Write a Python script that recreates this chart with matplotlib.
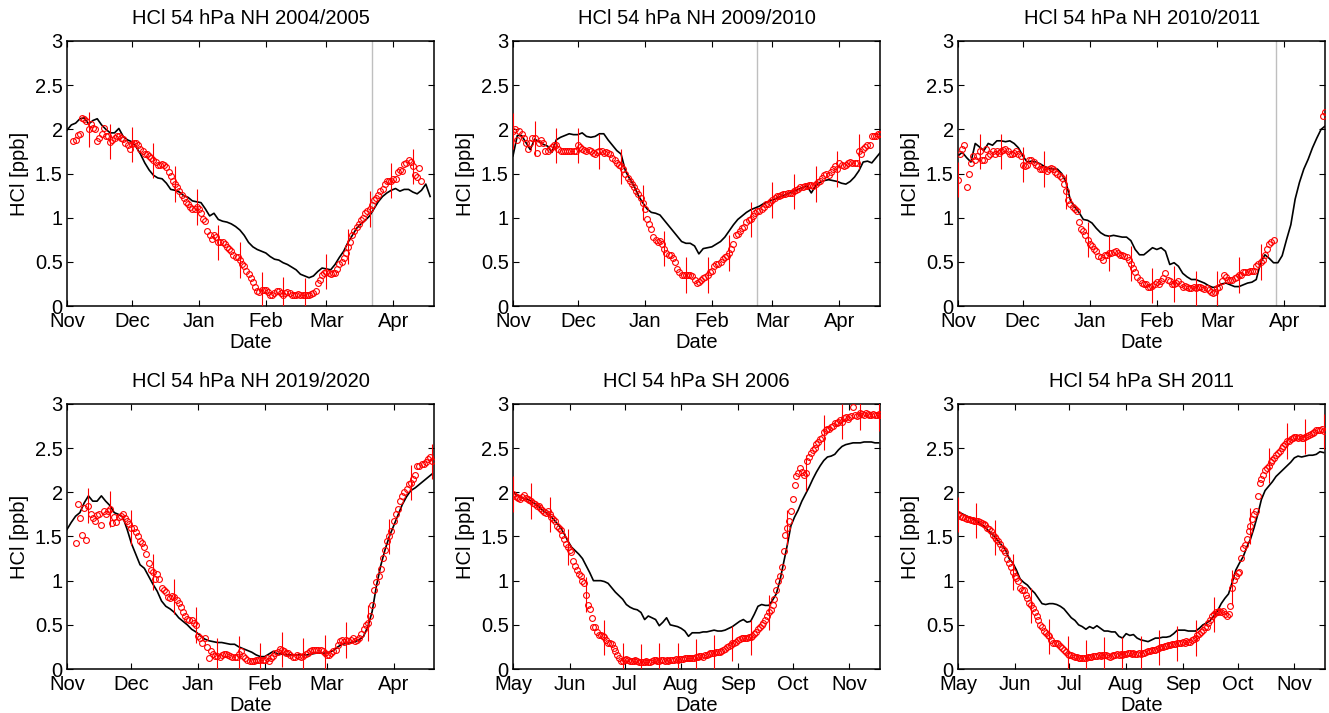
import numpy as np
import matplotlib
matplotlib.use('Agg')
import matplotlib.pyplot as plt
import matplotlib.dates as mdates
from matplotlib.ticker import FormatStrFormatter

plt.rcParams['font.family'] = ['Liberation Sans', 'DejaVu Sans']

nan = np.nan

titles = ['HCl 54 hPa NH 2004/2005', 'HCl 54 hPa NH 2009/2010', 'HCl 54 hPa NH 2010/2011',
          'HCl 54 hPa NH 2019/2020', 'HCl 54 hPa SH 2006', 'HCl 54 hPa SH 2011']
starts = ['2004-11-01', '2009-11-01', '2010-11-01', '2019-11-01', '2006-05-01', '2011-05-01']
ends = ['2005-04-20', '2010-04-20', '2011-04-20', '2020-04-20', '2006-11-18', '2011-11-18']
vortex_edge = ['2005-03-22', '2010-02-22', '2011-03-28', None, None, None]
obs_err = [0.2, 0.2, 0.2, 0.2, 0.2, 0.2]

# daily observations (ppb)
obs_0405 = [nan, nan, nan, 1.87, 1.88, 1.94, 1.95, 2.13, 2.12, 2.10,
            2.0, 2.06, 2.02, 2.0, 1.87, 1.90, 1.95, 2.02, 1.93, 1.92,
            1.86, 1.88, 1.90, 1.92, 1.92, 1.90, 1.89, 1.85, 1.82, 1.78,
            1.83, 1.85, 1.84, 1.82, 1.78, 1.76, 1.72, 1.72, 1.70, 1.68,
            1.65, 1.63, 1.60, 1.60, 1.61, 1.60, 1.57, 1.52, 1.47, 1.42,
            1.38, 1.35, 1.30, 1.26, 1.22, 1.18, 1.15, 1.12, 1.10, 1.10,
            1.12, 1.10, 1.05, 0.98, 0.96, 0.85, 0.80, 0.76, 0.80, 0.78,
            0.72, 0.73, 0.72, 0.70, 0.67, 0.65, 0.62, 0.58, 0.56, 0.55,
            0.52, 0.48, 0.45, 0.40, 0.36, 0.32, 0.27, 0.22, 0.17, 0.16,
            0.18, 0.18, 0.18, 0.16, 0.13, 0.13, 0.15, 0.17, 0.17, 0.15,
            0.13, 0.15, 0.16, 0.15, 0.13, 0.12, 0.13, 0.14, 0.13, 0.12,
            0.12, 0.13, 0.13, 0.14, 0.15, 0.17, 0.26, 0.30, 0.35, 0.37,
            0.39, 0.37, 0.36, 0.37, 0.37, 0.42, 0.48, 0.50, 0.54, 0.60,
            0.67, 0.72, 0.80, 0.85, 0.90, 0.93, 0.97, 1.00, 1.05, 1.08,
            1.10, 1.14, 1.20, 1.22, 1.26, 1.30, 1.33, 1.38, 1.41, 1.42,
            1.42, 1.44, 1.44, 1.52, 1.54, 1.53, 1.61, 1.62, 1.65, 1.63,
            1.58, 1.48, 1.46, 1.56, 1.42]
obs_0910 = [1.98, 2.0, 1.88, 1.98, 1.95, 1.9, 1.85, 1.78, 1.85, 1.9,
            1.9, 1.73, 1.85, 1.88, 1.85, 1.75, 1.76, 1.78, 1.8, 1.82,
            1.82, 1.78, 1.76, 1.75, 1.76, 1.76, 1.75, 1.76, 1.75, 1.76,
            1.82, 1.8, 1.78, 1.77, 1.76, 1.77, 1.75, 1.73, 1.72, 1.74,
            1.75, 1.75, 1.73, 1.74, 1.73, 1.72, 1.68, 1.65, 1.62, 1.6,
            1.58, 1.55, 1.5, 1.45, 1.42, 1.38, 1.35, 1.3, 1.27, 1.22,
            1.17, 1.1, 0.98, 0.93, 0.87, 0.78, 0.75, 0.73, 0.74, 0.7,
            0.65, 0.6, 0.58, 0.58, 0.54, 0.5, 0.42, 0.38, 0.35, 0.35,
            0.35, 0.35, 0.35, 0.34, 0.3, 0.26, 0.27, 0.3, 0.32, 0.33,
            0.35, 0.38, 0.4, 0.45, 0.48, 0.47, 0.5, 0.53, 0.55, 0.57,
            0.6, 0.65, 0.7, 0.8, 0.82, 0.85, 0.88, 0.9, 0.95, 0.97,
            0.98, 1.02, 1.05, 1.08, 1.08, 1.1, 1.12, 1.15, 1.15, 1.18,
            1.2, 1.22, 1.25, 1.25, 1.26, 1.27, 1.27, 1.28, 1.28, 1.28,
            1.3, 1.31, 1.33, 1.35, 1.35, 1.36, 1.36, 1.37, 1.37, 1.36,
            1.38, 1.4, 1.42, 1.45, 1.48, 1.5, 1.48, 1.52, 1.55, 1.58,
            1.55, 1.62, 1.6, 1.58, 1.6, 1.62, 1.63, 1.62, 1.62, 1.62,
            1.75, 1.72, 1.78, 1.8, 1.82, 1.82, 1.93, 1.92, 1.93, 1.95, 1.95]
obs_1011 = [1.43, 1.72, 1.78, 1.82, 1.35, 1.5, 1.62, 1.7, 1.65, 1.7,
            1.75, 1.65, 1.65, 1.78, 1.7, 1.72, 1.75, 1.72, 1.75, 1.73,
            1.75, 1.77, 1.78, 1.75, 1.72, 1.72, 1.73, 1.75, 1.72, 1.7,
            1.6, 1.58, 1.6, 1.65, 1.65, 1.63, 1.6, 1.58, 1.55, 1.55,
            1.55, 1.53, 1.55, 1.56, 1.55, 1.52, 1.5, 1.47, 1.45, 1.38,
            1.3, 1.2, 1.15, 1.12, 1.1, 1.07, 0.95, 0.87, 0.85, 0.8,
            0.75, 0.7, 0.68, 0.65, 0.62, 0.57, 0.55, 0.52, 0.58, 0.58,
            0.6, 0.6, 0.61, 0.62, 0.6, 0.58, 0.58, 0.57, 0.55, 0.52,
            0.48, 0.43, 0.38, 0.33, 0.3, 0.26, 0.25, 0.25, 0.22, 0.22,
            0.23, 0.25, 0.27, 0.25, 0.28, 0.32, 0.37, 0.3, 0.28, 0.25,
            0.25, 0.26, 0.28, 0.25, 0.22, 0.23, 0.21, 0.2, 0.2, 0.22,
            0.2, 0.21, 0.22, 0.2, 0.19, 0.2, 0.18, 0.16, 0.15, 0.16,
            0.2, 0.22, 0.28, 0.35, 0.33, 0.3, 0.29, 0.3, 0.32, 0.33,
            0.35, 0.35, 0.38, 0.38, 0.38, 0.4, 0.4, 0.4, 0.45, 0.48,
            0.5, 0.52, 0.58, 0.65, 0.7, 0.73, 0.75,
            nan, nan, nan, nan, nan, nan, nan, nan, nan, nan, nan,
            nan, nan, nan, nan, nan, nan, nan, nan, nan, nan, nan,
            2.15, 2.2]
obs_1920 = [nan, nan, nan, nan, 1.43, 1.87, 1.71, 1.52, 1.82, 1.46,
            1.85, 1.76, 1.71, 1.67, 1.74, 1.76, 1.63, 1.79, 1.76, 1.79,
            1.81, 1.65, 1.72, 1.66, 1.72, 1.73, 1.75, 1.71, 1.68, 1.64,
            1.6, 1.6, 1.55, 1.5, 1.45, 1.43, 1.38, 1.3, 1.2, 1.12,
            1.1, 1.02, 1.08, 1.02, 0.92, 0.9, 0.87, 0.82, 0.8, 0.83,
            0.82, 0.78, 0.75, 0.7, 0.65, 0.6, 0.57, 0.55, 0.55, 0.52,
            0.5, 0.37, 0.35, 0.3, 0.35, 0.25, 0.12, 0.2, 0.17, 0.15,
            0.15, 0.14, 0.16, 0.17, 0.17, 0.16, 0.15, 0.14, 0.14, 0.14,
            0.17, 0.2, 0.15, 0.12, 0.1, 0.09, 0.09, 0.09, 0.1, 0.1,
            0.1, 0.1, 0.1, 0.12, 0.09, 0.12, 0.15, 0.18, 0.19, 0.23,
            0.22, 0.2, 0.18, 0.18, 0.16, 0.14, 0.14, 0.16, 0.15, 0.14,
            0.15, 0.17, 0.18, 0.2, 0.21, 0.21, 0.22, 0.22, 0.22, 0.2,
            0.18, 0.16, 0.16, 0.18, 0.2, 0.22, 0.27, 0.32, 0.33, 0.31,
            0.33, 0.32, 0.33, 0.35, 0.32, 0.33, 0.35, 0.4, 0.45, 0.5,
            0.52, 0.6, 0.72, 0.9, 0.98, 1.05, 1.13, 1.26, 1.35, 1.45,
            1.5, 1.56, 1.68, 1.75, 1.81, 1.9, 1.96, 2.0, 2.04, 2.09,
            2.11, 2.15, 2.2, 2.3, 2.3, 2.32, 2.32, 2.34, 2.38, 2.4, 2.35]
obs_2006 = [1.98, 1.96, 1.95, 1.94, 1.93, 1.95, 1.97, 1.94, 1.92, 1.91,
            1.90, 1.88, 1.87, 1.85, 1.84, 1.82, 1.8, 1.78, 1.77, 1.79,
            1.75, 1.72, 1.7, 1.67, 1.62, 1.6, 1.57, 1.52, 1.47, 1.42,
            1.38, 1.35, 1.32, 1.22, 1.17, 1.12, 1.08, 1.05, 1.0, 0.97,
            0.84, 0.73, 0.68, 0.58, 0.48, 0.47, 0.42, 0.39, 0.38, 0.37,
            0.36, 0.33, 0.3, 0.3, 0.28, 0.24, 0.2, 0.16, 0.12, 0.09,
            0.09, 0.1, 0.11, 0.1, 0.09, 0.09, 0.09, 0.1, 0.09, 0.08,
            0.08, 0.08, 0.08, 0.09, 0.08, 0.08, 0.09, 0.1, 0.1, 0.09,
            0.09, 0.1, 0.1, 0.09, 0.1, 0.09, 0.1, 0.1, 0.1, 0.11,
            0.1, 0.11, 0.11, 0.11, 0.12, 0.12, 0.12, 0.13, 0.12, 0.13,
            0.14, 0.14, 0.15, 0.15, 0.14, 0.16, 0.16, 0.17, 0.18, 0.18,
            0.18, 0.19, 0.19, 0.19, 0.2, 0.22, 0.23, 0.25, 0.26, 0.27,
            0.29, 0.3, 0.31, 0.33, 0.34, 0.35, 0.35, 0.35, 0.35, 0.36,
            0.36, 0.37, 0.4, 0.42, 0.45, 0.48, 0.5, 0.52, 0.55, 0.6,
            0.64, 0.67, 0.72, 0.79, 0.9, 1.0, 1.05, 1.15, 1.34, 1.52,
            1.6, 1.68, 1.79, 1.92, 2.08, 2.19, 2.22, 2.27, 2.23, 2.2,
            2.22, 2.35, 2.4, 2.45, 2.48, 2.5, 2.55, 2.57, 2.6, 2.62,
            2.68, 2.7, 2.72, 2.72, 2.74, 2.75, 2.78, 2.78, 2.8, 2.82,
            2.8, 2.84, 2.85, 2.83, 2.85, 2.86, 2.97, 2.87, 2.86, 2.88,
            2.9, 2.89, 2.88, 2.9, 2.89, 2.87, 2.88, 2.89, 2.88, 2.88,
            2.89, 2.87]
obs_2011 = [1.75, 1.73, 1.72, 1.72, 1.71, 1.7, 1.7, 1.69, 1.69, 1.68,
            1.68, 1.67, 1.66, 1.65, 1.64, 1.63, 1.6, 1.58, 1.56, 1.52,
            1.49, 1.47, 1.45, 1.41, 1.37, 1.35, 1.32, 1.24, 1.2, 1.15,
            1.1, 1.05, 1.03, 1.0, 0.92, 0.9, 0.9, 0.84, 0.8, 0.75,
            0.72, 0.69, 0.65, 0.6, 0.55, 0.5, 0.48, 0.43, 0.41, 0.39,
            0.37, 0.33, 0.3, 0.3, 0.29, 0.28, 0.26, 0.24, 0.22, 0.19,
            0.17, 0.16, 0.16, 0.15, 0.14, 0.14, 0.13, 0.13, 0.12, 0.13,
            0.13, 0.14, 0.14, 0.14, 0.15, 0.15, 0.15, 0.16, 0.15, 0.16,
            0.16, 0.16, 0.15, 0.14, 0.15, 0.16, 0.16, 0.17, 0.16, 0.17,
            0.16, 0.17, 0.17, 0.18, 0.18, 0.17, 0.18, 0.17, 0.17, 0.18,
            0.17, 0.18, 0.18, 0.19, 0.2, 0.2, 0.21, 0.22, 0.22, 0.23,
            0.24, 0.25, 0.25, 0.26, 0.26, 0.27, 0.27, 0.28, 0.28, 0.28,
            0.29, 0.29, 0.3, 0.31, 0.3, 0.32, 0.31, 0.31, 0.33, 0.34,
            0.35, 0.38, 0.4, 0.42, 0.44, 0.47, 0.48, 0.52, 0.55, 0.6,
            0.62, 0.64, 0.65, 0.66, 0.65, 0.66, 0.62, 0.6, 0.62, 0.71,
            0.92, 1.01, 1.05, 1.09, 1.1, 1.26, 1.37, 1.4, 1.47, 1.56,
            1.62, 1.7, 1.75, 1.79, 1.96, 2.1, 2.15, 2.2, 2.25, 2.28,
            2.3, 2.34, 2.37, 2.39, 2.42, 2.45, 2.47, 2.5, 2.52, 2.55,
            2.58, 2.58, 2.6, 2.62, 2.63, 2.63, 2.62, 2.63, 2.62, 2.62,
            2.63, 2.64, 2.65, 2.66, 2.67, 2.68, 2.7, 2.7, 2.71, 2.72,
            2.69]

# model, every second day (ppb)
model_0405 = [1.99, 2.05, 2.07, 2.12, 2.13, 2.06, 2.1, 2.12, 2.05, 2.0,
              1.96, 1.96, 2.01, 1.92, 1.88, 1.86, 1.8, 1.72, 1.62, 1.54,
              1.48, 1.45, 1.44, 1.39, 1.32, 1.31, 1.29, 1.25, 1.23, 1.19,
              1.18, 1.17, 1.1, 1.02, 1.05, 0.98, 0.96, 0.95, 0.93, 0.9,
              0.86, 0.8, 0.72, 0.67, 0.64, 0.62, 0.6, 0.56, 0.53, 0.52,
              0.49, 0.47, 0.44, 0.41, 0.36, 0.34, 0.32, 0.34, 0.39, 0.43,
              0.42, 0.41, 0.47, 0.55, 0.62, 0.72, 0.8, 0.88, 0.93, 0.97,
              1.02, 1.1, 1.18, 1.24, 1.28, 1.31, 1.33, 1.3, 1.32, 1.32,
              1.29, 1.27, 1.31, 1.38, 1.24]
model_0910 = [1.7, 1.93, 1.93, 1.85, 1.77, 1.89, 1.86, 1.83, 1.81, 1.74,
              1.88, 1.91, 1.93, 1.95, 1.94, 1.94, 1.96, 1.92, 1.91, 1.92,
              1.95, 1.95, 1.88, 1.82, 1.76, 1.72, 1.53, 1.44, 1.36, 1.25,
              1.17, 1.1, 1.06, 1.05, 1.03, 0.97, 0.91, 0.85, 0.79, 0.73,
              0.71, 0.71, 0.68, 0.59, 0.65, 0.66, 0.67, 0.7, 0.73, 0.78,
              0.85, 0.92, 0.98, 1.02, 1.06, 1.09, 1.11, 1.13, 1.16, 1.18,
              1.2, 1.22, 1.24, 1.26, 1.28, 1.3, 1.32, 1.34, 1.36, 1.28,
              1.36, 1.4, 1.42, 1.43, 1.42, 1.41, 1.39, 1.38, 1.41, 1.46,
              1.53, 1.63, 1.64, 1.62, 1.68, 1.74]
model_1011 = [1.7, 1.74, 1.68, 1.63, 1.84, 1.8, 1.76, 1.84, 1.82, 1.87,
              1.87, 1.86, 1.87, 1.84, 1.79, 1.7, 1.63, 1.64, 1.63, 1.61,
              1.58, 1.56, 1.55, 1.55, 1.5, 1.4, 1.2, 1.12, 1.06, 0.98,
              0.97, 0.94, 0.88, 0.83, 0.8, 0.79, 0.8, 0.79, 0.78, 0.78,
              0.74, 0.64, 0.58, 0.58, 0.62, 0.66, 0.64, 0.66, 0.62, 0.47,
              0.49, 0.45, 0.37, 0.33, 0.3, 0.3, 0.28, 0.26, 0.23, 0.21,
              0.22, 0.25, 0.26, 0.24, 0.22, 0.22, 0.24, 0.26, 0.27, 0.3,
              0.49, 0.58, 0.54, 0.49, 0.49, 0.57, 0.75, 0.92, 1.21, 1.4,
              1.55, 1.66, 1.79, 1.9, 2.0, 2.04]
model_1920 = [1.58, 1.66, 1.73, 1.77, 1.88, 1.96, 1.9, 1.9, 1.96, 1.9,
              1.85, 1.77, 1.75, 1.72, 1.58, 1.42, 1.3, 1.18, 1.14, 1.05,
              0.96, 0.88, 0.77, 0.71, 0.68, 0.64, 0.58, 0.54, 0.5, 0.45,
              0.42, 0.38, 0.34, 0.32, 0.31, 0.3, 0.3, 0.29, 0.28, 0.28,
              0.25, 0.23, 0.21, 0.19, 0.16, 0.14, 0.14, 0.17, 0.2, 0.17,
              0.17, 0.16, 0.16, 0.16, 0.16, 0.16, 0.16, 0.17, 0.18, 0.18,
              0.18, 0.19, 0.21, 0.25, 0.28, 0.29, 0.3, 0.31, 0.33, 0.37,
              0.48, 0.65, 0.94, 1.17, 1.35, 1.5, 1.62, 1.74, 1.86, 1.95,
              2.02, 2.05, 2.09, 2.13, 2.17, 2.21]
model_2006 = [2.0, 1.97, 1.95, 1.93, 1.92, 1.9, 1.87, 1.84, 1.8, 1.77,
              1.74, 1.7, 1.65, 1.6, 1.53, 1.45, 1.38, 1.34, 1.3, 1.25,
              1.17, 1.09, 1.0, 1.0, 1.0, 0.99, 0.97, 0.92, 0.87, 0.83,
              0.79, 0.73, 0.7, 0.68, 0.67, 0.64, 0.56, 0.6, 0.58, 0.56,
              0.49, 0.53, 0.58, 0.5, 0.49, 0.48, 0.46, 0.43, 0.37, 0.41,
              0.41, 0.41, 0.42, 0.42, 0.43, 0.44, 0.43, 0.43, 0.44, 0.46,
              0.48, 0.51, 0.54, 0.56, 0.53, 0.54, 0.62, 0.71, 0.73, 0.72,
              0.72, 0.78, 0.85, 1.0, 1.2, 1.4, 1.62, 1.72, 1.8, 1.9,
              1.98, 2.06, 2.15, 2.23, 2.3, 2.36, 2.4, 2.41, 2.43, 2.48,
              2.52, 2.54, 2.55, 2.56, 2.56, 2.56, 2.57, 2.57, 2.57, 2.56,
              2.56]
model_2011 = [1.78, 1.76, 1.74, 1.72, 1.7, 1.68, 1.65, 1.62, 1.58, 1.54,
              1.5, 1.45, 1.4, 1.35, 1.25, 1.2, 1.12, 1.02, 0.98, 0.95,
              0.9, 0.86, 0.8, 0.74, 0.73, 0.74, 0.74, 0.73, 0.71, 0.68,
              0.63, 0.58, 0.55, 0.5, 0.48, 0.45, 0.48, 0.46, 0.49, 0.46,
              0.43, 0.43, 0.42, 0.42, 0.37, 0.35, 0.4, 0.38, 0.39, 0.35,
              0.33, 0.32, 0.31, 0.33, 0.35, 0.35, 0.36, 0.36, 0.37, 0.4,
              0.44, 0.44, 0.44, 0.43, 0.43, 0.43, 0.46, 0.5, 0.52, 0.55,
              0.6, 0.66, 0.74, 0.8, 0.85, 0.98, 1.12, 1.2, 1.27, 1.38,
              1.47, 1.6, 1.75, 1.92, 2.02, 2.07, 2.12, 2.18, 2.22, 2.26,
              2.3, 2.34, 2.39, 2.41, 2.4, 2.41, 2.42, 2.42, 2.43, 2.46,
              2.45]

obs_all = [obs_0405, obs_0910, obs_1011, obs_1920, obs_2006, obs_2011]
model_all = [model_0405, model_0910, model_1011, model_1920, model_2006, model_2011]

# axes boxes in figure fractions
lefts = [0.0504, 0.386, 0.7208, 0.0504, 0.386, 0.7208]
bottoms = [0.5708, 0.5708, 0.5708, 0.0617, 0.0617, 0.0617]
width, height = 0.2765, 0.3717
fs = 14.5

fig = plt.figure(figsize=(13.29, 7.13), dpi=100)

for i in range(6):
    ax = fig.add_axes([lefts[i], bottoms[i], width, height])
    t0 = np.datetime64(starts[i])
    obs = np.array(obs_all[i], dtype=float)
    mod = np.array(model_all[i], dtype=float)
    t_obs = t0 + np.arange(len(obs)).astype('timedelta64[D]')
    t_mod = t0 + (2 * np.arange(len(mod))).astype('timedelta64[D]')

    if vortex_edge[i] is not None:
        ax.axvline(np.datetime64(vortex_edge[i]), color='0.75', lw=1.0, zorder=1)
    ax.plot(t_mod, mod, color='k', lw=1.2, zorder=2)
    ax.plot(t_obs, obs, 'o', mfc='none', mec='red', ms=4.2, mew=0.8, zorder=3)
    ax.errorbar(t_obs, obs, yerr=obs_err[i], fmt='none', ecolor='red',
                elinewidth=0.8, capsize=0, errorevery=10, zorder=3)

    ax.set_xlim(t0, np.datetime64(ends[i]))
    ax.set_ylim(0, 3)
    ax.set_yticks(np.arange(0, 3.01, 0.5))
    ax.yaxis.set_major_formatter(FormatStrFormatter('%g'))
    ax.xaxis.set_major_locator(mdates.MonthLocator())
    ax.xaxis.set_major_formatter(mdates.DateFormatter('%b'))
    ax.tick_params(direction='in', top=True, right=True, length=4, width=0.8,
                   labelsize=fs)
    ax.tick_params(axis='x', pad=4)
    ax.tick_params(axis='y', pad=3)
    for s in ax.spines.values():
        s.set_linewidth(1.1)
    ax.set_title(titles[i], fontsize=fs, pad=12)
    ax.set_xlabel('Date', fontsize=fs, labelpad=2)
    ax.set_ylabel('HCl [ppb]', fontsize=fs, labelpad=4)

fig.savefig('out.png', dpi=100)
